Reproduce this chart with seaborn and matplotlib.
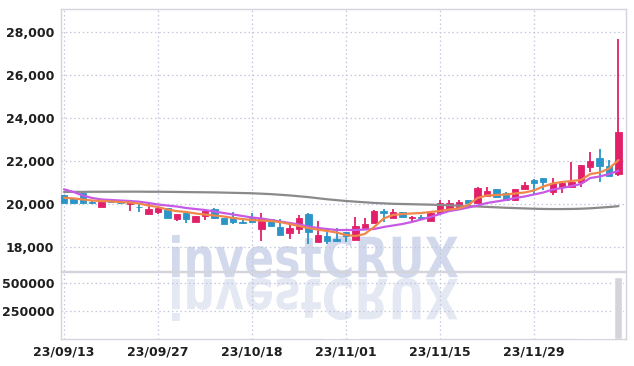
import numpy as np
import pandas as pd
import matplotlib
matplotlib.use('Agg')
import matplotlib.pyplot as plt
import seaborn as sns
from matplotlib.textpath import TextPath
from matplotlib.patches import PathPatch
from matplotlib.font_manager import FontProperties
from matplotlib.transforms import Affine2D

# -------------------------
# Data
# -------------------------
dates = ['23/09/13', '23/09/14', '23/09/15', '23/09/18', '23/09/19', '23/09/20', '23/09/21', '23/09/22', '23/09/25', '23/09/26',
         '23/09/27', '23/10/04', '23/10/05', '23/10/06', '23/10/10', '23/10/11', '23/10/12', '23/10/13', '23/10/16', '23/10/17',
         '23/10/18', '23/10/19', '23/10/20', '23/10/23', '23/10/24', '23/10/25', '23/10/26', '23/10/27', '23/10/30', '23/10/31',
         '23/11/01', '23/11/02', '23/11/03', '23/11/06', '23/11/07', '23/11/08', '23/11/09', '23/11/10', '23/11/13', '23/11/14',
         '23/11/15', '23/11/16', '23/11/17', '23/11/20', '23/11/21', '23/11/22', '23/11/23', '23/11/24', '23/11/27', '23/11/28',
         '23/11/29', '23/11/30', '23/12/01', '23/12/04', '23/12/05', '23/12/06', '23/12/07', '23/12/08', '23/12/11', '23/12/12']

open_ = [20420, 20230, 20510, 20090, 19860, 20140, 20050, 20000, 19880, 19530,
         19630, 19815, 19300, 19580, 19160, 19440, 19770, 19350, 19395, 19150,
         19350, 18840, 19300, 18930, 18650, 18840, 19535, 18230, 18510, 18370,
         18700, 18330, 18900, 19120, 19675, 19370, 19630, 19330, 19395, 19230,
         19580, 19700, 19860, 20180, 20050, 20370, 20700, 20510, 20180, 20700,
         21120, 21210, 20560, 20790, 20790, 21020, 21720, 22140, 21770, 21400]
high = [20440, 20250, 20530, 20120, 20100, 20190, 20070, 20100, 20050, 20000,
        19900, 19830, 19550, 19600, 19460, 19700, 19800, 19370, 19630, 19260,
        19580, 19580, 19320, 19300, 19020, 19490, 19560, 19210, 18840, 18880,
        18720, 19400, 19350, 19700, 19770, 19770, 19650, 19430, 19490, 19630,
        20180, 20180, 20180, 20200, 20790, 20790, 20720, 20560, 20720, 21020,
        21140, 21230, 21210, 21000, 21950, 21830, 22420, 22560, 22050, 27670]
low = [20040, 20000, 20000, 20000, 19840, 20050, 20000, 19680, 19630, 19520,
       19540, 19370, 19210, 19130, 19140, 19255, 19320, 19050, 19070, 19070,
       19140, 18280, 18960, 18540, 18370, 18600, 18140, 18210, 18140, 18230,
       18230, 18310, 18880, 19100, 19160, 19350, 19380, 19210, 19260, 19210,
       19560, 19680, 19840, 20030, 20030, 20350, 20300, 20160, 20160, 20680,
       20400, 20650, 20420, 20510, 20770, 20790, 21490, 21020, 21280, 21300]
close = [20060, 20050, 20050, 20040, 20090, 20100, 20030, 20090, 19840, 19790,
         19815, 19370, 19535, 19300, 19440, 19675, 19370, 19070, 19160, 19120,
         19160, 19350, 18980, 18560, 18880, 19350, 18680, 18560, 18300, 18280,
         18510, 18980, 19050, 19675, 19580, 19630, 19395, 19410, 19350, 19580,
         20050, 20050, 20090, 20050, 20740, 20600, 20325, 20180, 20700, 20880,
         20980, 21020, 20980, 20980, 21020, 21810, 22000, 21770, 21300, 23350]
volume = [2500, 2000, 2200, 1800, 2000, 1500, 1700, 2100, 2300, 2600,
          2400, 3000, 2800, 2500, 2600, 2700, 3100, 2900, 2700, 2500,
          2600, 3400, 2800, 3000, 2700, 3200, 3600, 3300, 9000, 8500,
          3400, 8000, 3500, 3800, 3000, 2900, 2800, 2600, 2500, 2700,
          3200, 3300, 3000, 2800, 4000, 3500, 3200, 3000, 3600, 3400,
          3500, 3300, 3800, 3600, 4200, 4800, 5000, 5200, 7500, 555000]

ma_short = [20290, 20260, 20210, 20160, 20140, 20120, 20090, 20070, 20020, 19930,
            19860, 19740, 19670, 19630, 19560, 19510, 19465, 19420, 19350, 19300,
            19255, 19230, 19210, 19160, 19070, 18980, 18880, 18810, 18745, 18675,
            18560, 18510, 18605, 18930, 19325, 19490, 19535, 19560, 19580, 19630,
            19675, 19745, 19790, 19955, 20280, 20395, 20420, 20440, 20490, 20535,
            20630, 20815, 20955, 21025, 21070, 21115, 21395, 21465, 21650, 22045]
ma_mid = [20684, 20560, 20395, 20280, 20210, 20186, 20163, 20140, 20107, 20047,
          19977, 19930, 19884, 19814, 19767, 19721, 19651, 19581, 19512, 19442,
          19372, 19326, 19256, 19186, 19116, 19047, 18953, 18884, 18837, 18791,
          18791, 18791, 18814, 18837, 18930, 19000, 19070, 19163, 19279, 19395,
          19535, 19674, 19744, 19837, 19930, 20047, 20116, 20186, 20279, 20349,
          20442, 20535, 20674, 20744, 20837, 20930, 21209, 21279, 21395, 21549]
ma_long = [20560, 20565, 20565, 20570, 20570, 20570, 20575, 20575, 20575, 20570,
           20570, 20565, 20560, 20555, 20550, 20545, 20540, 20530, 20520, 20510,
           20500, 20480, 20460, 20430, 20400, 20360, 20320, 20270, 20220, 20180,
           20140, 20110, 20080, 20050, 20030, 20010, 20000, 19990, 19980, 19970,
           19955, 19940, 19925, 19905, 19885, 19865, 19845, 19825, 19810, 19795,
           19780, 19770, 19765, 19765, 19770, 19780, 19800, 19830, 19860, 19900]

price_ticks = [18000, 20000, 22000, 24000, 26000, 28000]
vol_ticks = [250000, 500000]

df = pd.DataFrame({'Date': dates, 'Open': open_, 'High': high, 'Low': low,
                   'Close': close, 'Volume': volume,
                   'MA_S': ma_short, 'MA_M': ma_mid, 'MA_L': ma_long})
df['i'] = np.arange(len(df))

# -------------------------
# Style
# -------------------------
sns.set_theme(style='white')
plt.rcParams['font.family'] = ['DejaVu Sans']
lab_size = 9.0

UP = '#E2206A'
DOWN = '#2C95C8'
GRID = '#c3c6dc'
SPINE = '#d4d4dc'

fig = plt.figure(figsize=(6.34, 3.66), dpi=100)
W, H = 634, 366
ax = fig.add_axes([61 / W, 1 - 271 / H, 565 / W, 262 / H])
axv = fig.add_axes([61 / W, 1 - 339 / H, 565 / W, 67 / H], sharex=ax)

# -------------------------
# Watermark (behind candles) + reflection
# -------------------------
fp = FontProperties(family='DejaVu Sans', weight='bold')
tp = TextPath((0, 0), 'investCRUX', size=50, prop=fp)
ext = tp.get_extents()
sx = 286 / ext.width
sy = 43 / ext.height
base_y = H - 278
tr_main = Affine2D().translate(-ext.x0, -ext.y0).scale(sx, sy).translate(172, base_y)
ax.add_patch(PathPatch(tr_main.transform_path(tp), transform=Affine2D(),
                       facecolor='#d3d9ec', edgecolor='none', zorder=0.5, clip_on=False))
tr_refl = Affine2D().translate(-ext.x0, -ext.y0).scale(sx, -sy).translate(172, base_y)
refl = PathPatch(tr_refl.transform_path(tp), transform=Affine2D(),
                 facecolor='#e4e8f3', edgecolor='none', zorder=0.5)
axv.add_patch(refl)
refl.set_clip_path(axv.patch)

# -------------------------
# Candles
# -------------------------
up = df['Close'] >= df['Open']
colors = np.where(up, UP, DOWN)
body_lo = df[['Open', 'Close']].min(axis=1)
body_h = np.maximum((df['Close'] - df['Open']).abs(), 30)

ax.vlines(df['i'], df['Low'], df['High'], colors=colors, linewidth=1.3, zorder=3)
ax.bar(df['i'], body_h, bottom=body_lo, width=0.68, color=colors, edgecolor=colors,
       linewidth=0.6, zorder=4)

sns.lineplot(data=df, x='i', y='MA_L', ax=ax, color='#8a8a8a', linewidth=1.6, zorder=5)
sns.lineplot(data=df, x='i', y='MA_M', ax=ax, color='#c659e6', linewidth=1.6, zorder=5)
sns.lineplot(data=df, x='i', y='MA_S', ax=ax, color='#f0884a', linewidth=1.6, zorder=6)

ax.set_ylim(16884, 29070)
ax.set_xlim(-0.32, 59.8)
ax.set_yticks(price_ticks)
ax.set_yticklabels([f'{v:,}' for v in price_ticks])
ax.set_xlabel('')
ax.set_ylabel('')
ax.tick_params(axis='x', labelbottom=False, length=0)
ax.tick_params(axis='y', length=0, pad=5, labelsize=lab_size, labelcolor='#1e1e1e')
ax.set_xticks(df['i'][::10])
ax.grid(True, linestyle=(0, (1.2, 2.2)), color=GRID, linewidth=0.9, zorder=0)

# -------------------------
# Volume
# -------------------------
axv.bar(df['i'], df['Volume'], width=0.85, color='#d4d4dc', zorder=3)
axv.set_ylim(0, 600000)
axv.set_yticks(vol_ticks)
axv.set_yticklabels([str(v) for v in vol_ticks])
axv.set_xticks(df['i'][::10])
axv.set_xticklabels(df['Date'][::10])
axv.tick_params(axis='both', length=0, labelsize=lab_size, labelcolor='#1e1e1e')
axv.tick_params(axis='y', pad=5)
axv.tick_params(axis='x', pad=5)
axv.grid(True, linestyle=(0, (1.2, 2.2)), color=GRID, linewidth=0.9, zorder=0)

for a in (ax, axv):
    a.set_facecolor('none')
    for s in a.spines.values():
        s.set_color(SPINE)
        s.set_linewidth(1.0)
    for lab in a.get_xticklabels() + a.get_yticklabels():
        lab.set_fontweight('bold')

fig.savefig('out.png', dpi=100, facecolor='white')
